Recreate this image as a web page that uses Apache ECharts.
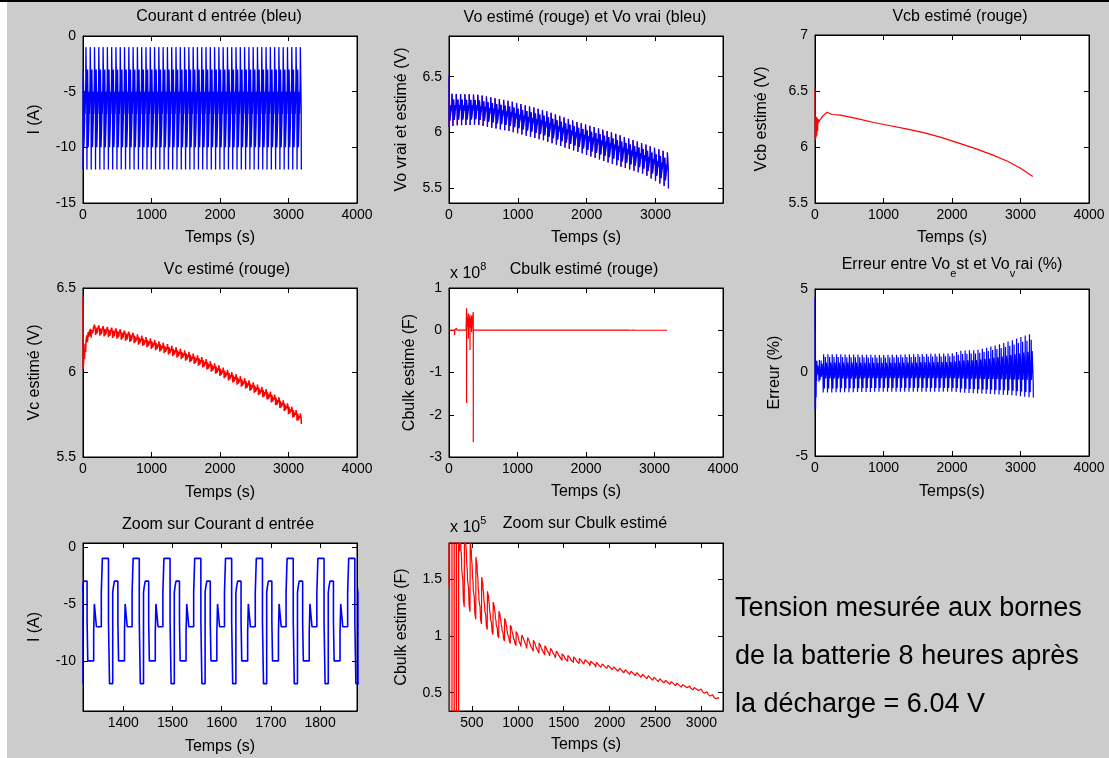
<!DOCTYPE html>
<html><head><meta charset="utf-8">
<script src="https://cdn.jsdelivr.net/npm/echarts@6/dist/echarts.min.js"></script>
<style>html,body{margin:0;padding:0;background:#fff;overflow:hidden}#c{width:1109px;height:758px}</style>
</head><body><div id="c"></div>
<script>
// ---------------- DATA ----------------
// one period of the input current profile (A) and the duration of each step (s)
const cycleLevels    = [-1, -6.5, -12, -4, -3.5, -3, -6.5, -10, -7.5, -5, -6, -7, -4];
const cycleDurations = [12.5, 2.1, 6.5, 1.4, 2.1, 7.0, 1.4, 12.0, 1.4, 2.1, 2.1, 9.9, 2.1];
const cycleStart = 42.7;     // start time of the first "-1 A" plateau (s)
const tEnd = 3190;           // end of the recording (s)

// Vo vrai : envelope read on the picture (V)
const voTimes  = [0, 100, 415, 900, 1380, 1865, 2350, 2830, 3190];
const voTop    = [6.35, 6.346, 6.34, 6.28, 6.20, 6.095, 6.006, 5.90, 5.82];
const voBottom = [6.05, 6.065, 6.07, 6.01, 5.93, 5.83, 5.725, 5.63, 5.50];
const voTrueStartT = [0], voTrueStartV = [6.51];
const voEstStartT  = [0], voEstStartV  = [6.47];

// Vcb estimé (V)
const vcbTimes  = [0, 3, 8, 14, 20, 26, 32, 38, 45, 55, 70, 90, 120, 175, 250, 370, 615, 860, 1100, 1350, 1600, 1840, 2100, 2330, 2580, 2820, 3000, 3180];
const vcbValues = [6.52, 6.06, 6.25, 6.08, 6.27, 6.10, 6.26, 6.14, 6.25, 6.22, 6.24, 6.23, 6.28, 6.31, 6.29, 6.284, 6.254, 6.219, 6.19, 6.16, 6.126, 6.086, 6.035, 5.988, 5.932, 5.87, 5.81, 5.737];

// Vc estimé (V)
const vcStartT = [0, 2, 8, 15, 22, 30, 38, 45, 55, 65, 75, 85, 95];
const vcStartV = [6.45, 6.02, 6.05, 6.12, 6.08, 6.17, 6.12, 6.19, 6.22, 6.18, 6.24, 6.21, 6.25];
const vcTimes  = [100, 150, 254, 500, 741, 1000, 1229, 1500, 1717, 2000, 2205, 2500, 2693, 2950, 3190];
const vcMid    = [6.22, 6.255, 6.247, 6.23, 6.204, 6.17, 6.139, 6.10, 6.066, 6.01, 5.967, 5.91, 5.869, 5.80, 5.725];
const vcRipple = 0.03;

// Cbulk estimé (units of 1e5 F)
const cbStartT = [0, 80, 80.5, 85, 108, 108.5, 115, 250, 256, 256.5, 257, 282, 282.5, 283, 306, 306.5, 307, 330, 330.5, 331, 354, 354.5, 355, 365];
const cbStartV = [0.5, 0.8, -120, 1, 0.8, 50, 1, 1.5, 520, -1720, 2, 400, -200, 1.7, 370, -470, 1.8, 350, -50, 1.6, 430, -2650, 1.9, 1.75];
const cbTimes  = [365, 400, 450, 500, 550, 620, 700, 800, 900, 1000, 1250, 1500, 2000, 2500, 3000, 3190];
const cbMid    = [1.75, 1.65, 1.58, 1.50, 1.42, 1.30, 1.19, 1.10, 1.03, 0.97, 0.89, 0.81, 0.72, 0.615, 0.515, 0.44];
const cbHalf   = [0.45, 0.38, 0.34, 0.30, 0.28, 0.20, 0.16, 0.12, 0.09, 0.06, 0.045, 0.03, 0.02, 0.02, 0.015, 0.012];
const cbPattern = [1.0, 0.8, 0.6, 0.45, 0.3, 0.15, 0.0, -0.2, -0.4, -0.55, -0.7, -0.85, -1.0];

// Erreur (%)
const errStartT = [0, 1, 6, 8, 12, 16, 20, 24, 28];
const errStartV = [4.5, -2.2, 2.5, -2.2, 0.7, -1.5, 0.6, -0.5, 0.7];
const errTimes  = [30, 80, 120, 1000, 2000, 2130, 2370, 2615, 2860, 3054, 3190];
const errTop    = [0.75, 0.75, 1.1, 1.05, 1.15, 1.3, 1.35, 1.6, 1.9, 2.2, 2.35];
const errBottom = [-0.55, -0.55, -1.2, -1.15, -1.15, -1.2, -1.25, -1.3, -1.35, -1.45, -1.5];
const errPattern = [0.45, -0.35, -1.0, 1.0, 0.3, 0.1, -0.8, -0.4, 0.5, 0.85, 0.2, -0.3, 0.55];

// tick labels
const ticksT4000  = [0, 1000, 2000, 3000, 4000];
const ticksT3000  = [0, 1000, 2000, 3000];
const ticksTZoomI = [1400, 1500, 1600, 1700, 1800];
const ticksTZoomC = [500, 1000, 1500, 2000, 2500, 3000];
const ticksI      = [-15, -10, -5, 0];
const ticksIZoom  = [-10, -5, 0];
const ticksVo     = [5.5, 6, 6.5];
const ticksVcb    = [5.5, 6, 6.5, 7];
const ticksVc     = [5.5, 6, 6.5];
const ticksCb8    = [-3, -2, -1, 0, 1];
const ticksErr    = [-5, 0, 5];
const ticksCb5    = [0.5, 1, 1.5];

// ---------------- helpers ----------------
const period = cycleDurations.reduce((a, b) => a + b, 0);
function cycleSegments(t0, t1) {
  const segs = [];
  let start = cycleStart;
  while (start > t0) start -= period;
  while (start < t1) {
    let a = start;
    for (let i = 0; i < cycleLevels.length; i++) {
      const b = a + cycleDurations[i];
      const ca = Math.max(a, t0), cb = Math.min(b, t1);
      if (cb > ca) segs.push({ a: ca, b: cb, i: i, lvl: cycleLevels[i], m: (ca + cb) / 2 });
      a = b;
    }
    start += period;
  }
  return segs;
}
function at(ts, vs, t) {
  if (t <= ts[0]) return vs[0];
  for (let k = 1; k < ts.length; k++) {
    if (t <= ts[k]) { const f = (t - ts[k - 1]) / (ts[k] - ts[k - 1]); return vs[k - 1] + f * (vs[k] - vs[k - 1]); }
  }
  return vs[vs.length - 1];
}
function steps(t0, t1, valueOf) {
  const pts = [];
  cycleSegments(t0, t1).forEach(s => { const v = valueOf(s); pts.push([s.a, v], [s.b, v]); });
  return pts;
}
const zip = (ts, vs) => ts.map((t, k) => [t, vs[k]]);

// ---------------- signals ----------------
const current = steps(0, tEnd, s => s.lvl);
const voBand = steps(0, tEnd, s => { const top = at(voTimes, voTop, s.m), bot = at(voTimes, voBottom, s.m); return bot + (top - bot) * (s.lvl + 12) / 11; });
const voTrue = zip(voTrueStartT, voTrueStartV).concat(voBand);
const voEst = zip(voEstStartT, voEstStartV).concat(voBand);
const vcb = zip(vcbTimes, vcbValues);
const vc = zip(vcStartT, vcStartV).concat(steps(100, tEnd, s => at(vcTimes, vcMid, s.m) + vcRipple * (s.lvl + 6.5) / 5.5));
const cbulk5 = zip(cbStartT, cbStartV).concat(steps(365, tEnd, s => at(cbTimes, cbMid, s.m) + at(cbTimes, cbHalf, s.m) * cbPattern[s.i]));
const cbulk8 = cbulk5.map(p => [p[0], p[1] / 1000]);
const err = zip(errStartT, errStartV).concat(steps(30, tEnd, s => { const p = errPattern[s.i]; return p >= 0 ? p * at(errTimes, errTop, s.m) : -p * at(errTimes, errBottom, s.m); }));

// ---------------- layout ----------------
const FONT = 'Arial, "Liberation Sans", Helvetica, sans-serif';
const panels = [
  { g: [83, 36, 274, 167],  xr: [0, 4000], xt: ticksT4000, yr: [-15, 0], yt: ticksI, yn: 'I (A)', yg: 40, xn: 'Temps (s)', xg: 27,
    series: [{ d: current, c: '#0000ff', w: 1.3 }] },
  { g: [449, 36, 274, 167], xr: [0, 3980], xt: ticksT3000, yr: [5.37, 6.864], yt: ticksVo, yn: 'Vo vrai et estimé (V)', yg: 39, xn: 'Temps (s)', xg: 27,
    series: [{ d: voEst, c: '#ff0000', w: 0.8 }, { d: voTrue, c: '#0000ff', w: 1.3 }] },
  { g: [815, 35, 274, 168], xr: [0, 4000], xt: ticksT4000, yr: [5.5, 7], yt: ticksVcb, yn: 'Vcb estimé (V)', yg: 45, xn: 'Temps (s)', xg: 27,
    series: [{ d: vcb, c: '#ff0000', w: 1.2 }] },
  { g: [83, 288, 274, 169], xr: [0, 4000], xt: ticksT4000, yr: [5.5, 6.5], yt: ticksVc, yn: 'Vc estimé (V)', yg: 40, xn: 'Temps (s)', xg: 28,
    series: [{ d: vc, c: '#ff0000', w: 1.5 }] },
  { g: [449, 288, 274, 169], xr: [0, 4000], xt: ticksT4000, yr: [-3, 1], yt: ticksCb8, yn: 'Cbulk estimé (F)', yg: 31, xn: 'Temps (s)', xg: 27,
    series: [{ d: cbulk8, c: '#ff0000', w: 1.2 }] },
  { g: [815, 289, 274, 167], xr: [0, 4000], xt: ticksT4000, yr: [-5, 5], yt: ticksErr, yn: 'Erreur (%)', yg: 32, xn: 'Temps(s)', xg: 28,
    series: [{ d: err, c: '#0000ff', w: 1.2 }] },
  { g: [83, 543, 274, 168], xr: [1318, 1875], xt: ticksTZoomI, yr: [-14.4, 0.35], yt: ticksIZoom, yn: 'I (A)', yg: 40, xn: 'Temps (s)', xg: 28,
    series: [{ d: current, c: '#0000ff', w: 1.6 }] },
  { g: [449, 543, 274, 168], xr: [250, 3235], xt: ticksTZoomC, yr: [0.338, 1.824], yt: ticksCb5, yn: 'Cbulk estimé (F)', yg: 39, xn: 'Temps (s)', xg: 26,
    series: [{ d: cbulk5, c: '#ff0000', w: 1.2 }] }
];

const grid = [], xAxis = [], yAxis = [], series = [];
const tickStyle = { lineStyle: { color: '#000', width: 1 } };
const plain = v => String(+v.toFixed(6));
panels.forEach((p, k) => {
  grid.push({ left: p.g[0], top: p.g[1], width: p.g[2], height: p.g[3], show: true, backgroundColor: '#fff', borderColor: '#000', borderWidth: 1 });
  const base = (r, t) => ({ type: 'value', gridIndex: k, min: r[0], max: r[1], scale: true,
    axisLine: { show: true, onZero: false, lineStyle: { color: '#000', width: 1 } },
    axisTick: Object.assign({ show: true, inside: true, length: 5, customValues: t }, tickStyle),
    splitLine: { show: false } });
  xAxis.push(Object.assign(base(p.xr, p.xt), { position: 'bottom',
    axisLabel: { show: true, customValues: p.xt, formatter: plain, color: '#000', fontSize: 14, fontFamily: FONT, margin: 5 },
    name: p.xn, nameLocation: 'middle', nameGap: p.xg, nameTextStyle: { color: '#000', fontSize: 16, fontFamily: FONT } }));
  xAxis.push(Object.assign(base(p.xr, p.xt), { position: 'top', axisLabel: { show: false } }));
  yAxis.push(Object.assign(base(p.yr, p.yt), { position: 'left',
    axisLabel: { show: true, customValues: p.yt, formatter: plain, color: '#000', fontSize: 14, fontFamily: FONT, margin: 7 },
    name: p.yn, nameLocation: 'middle', nameGap: p.yg, nameTextStyle: { color: '#000', fontSize: 16, fontFamily: FONT } }));
  yAxis.push(Object.assign(base(p.yr, p.yt), { position: 'right', axisLabel: { show: false } }));
  p.series.forEach(s => series.push({ type: 'line', xAxisIndex: 2 * k, yAxisIndex: 2 * k, data: s.d, showSymbol: false, symbol: 'none',
    clip: true, silent: true, animation: false, sampling: null, lineStyle: { color: s.c, width: s.w } }));
});

const txt = (text, x, y, size, align, extra) => ({ type: 'text', z: 100, silent: true,
  style: Object.assign({ text: text, x: x, y: y, fill: '#000', font: size + 'px ' + FONT, fontSize: size, fontFamily: FONT,
    textAlign: align, align: align, textVerticalAlign: 'middle', verticalAlign: 'middle' }, extra || {}) });

const graphic = [
  { type: 'rect', z: 100, silent: true, shape: { x: 0, y: 0, width: 7, height: 758 }, style: { fill: '#fff' } },
  { type: 'rect', z: 101, silent: true, shape: { x: 0, y: 0, width: 1109, height: 2 }, style: { fill: '#000' } },
  txt('Courant d entrée (bleu)', 219, 17, 16, 'center'),
  txt('Vo estimé (rouge) et Vo vrai (bleu)', 585, 18, 16, 'center'),
  txt('Vcb estimé (rouge)', 960, 17, 16, 'center'),
  txt('Vc estimé (rouge)', 227, 270, 16, 'center'),
  txt('Cbulk estimé (rouge)', 584, 270, 16, 'center'),
  txt('Erreur entre Vo{s|e}st et Vo{s|v}rai (%)', 952, 265, 16, 'center',
      { rich: { s: { fontSize: 11, fontFamily: FONT, verticalAlign: 'bottom', lineHeight: 28, fill: '#000' } } }),
  txt('Zoom sur Courant d entrée', 218, 525, 16, 'center'),
  txt('Zoom sur Cbulk estimé', 585, 524, 16, 'center'),
  txt('x 10{p|8}', 450, 274, 16, 'left', { rich: { p: { fontSize: 11, fontFamily: FONT, verticalAlign: 'top', lineHeight: 26, fill: '#000' } } }),
  txt('x 10{p|5}', 450, 528, 16, 'left', { rich: { p: { fontSize: 11, fontFamily: FONT, verticalAlign: 'top', lineHeight: 26, fill: '#000' } } }),
  txt('Tension mesurée aux bornes', 735, 609, 27, 'left'),
  txt('de la batterie 8 heures après', 735, 657, 27, 'left'),
  txt('la décharge = 6.04 V', 735, 705, 27, 'left')
];

const chart = echarts.init(document.getElementById('c'), null, { renderer: 'canvas' });
chart.setOption({ backgroundColor: '#cccccc', animation: false, grid: grid, xAxis: xAxis, yAxis: yAxis, series: series, graphic: graphic });
</script></body></html>
